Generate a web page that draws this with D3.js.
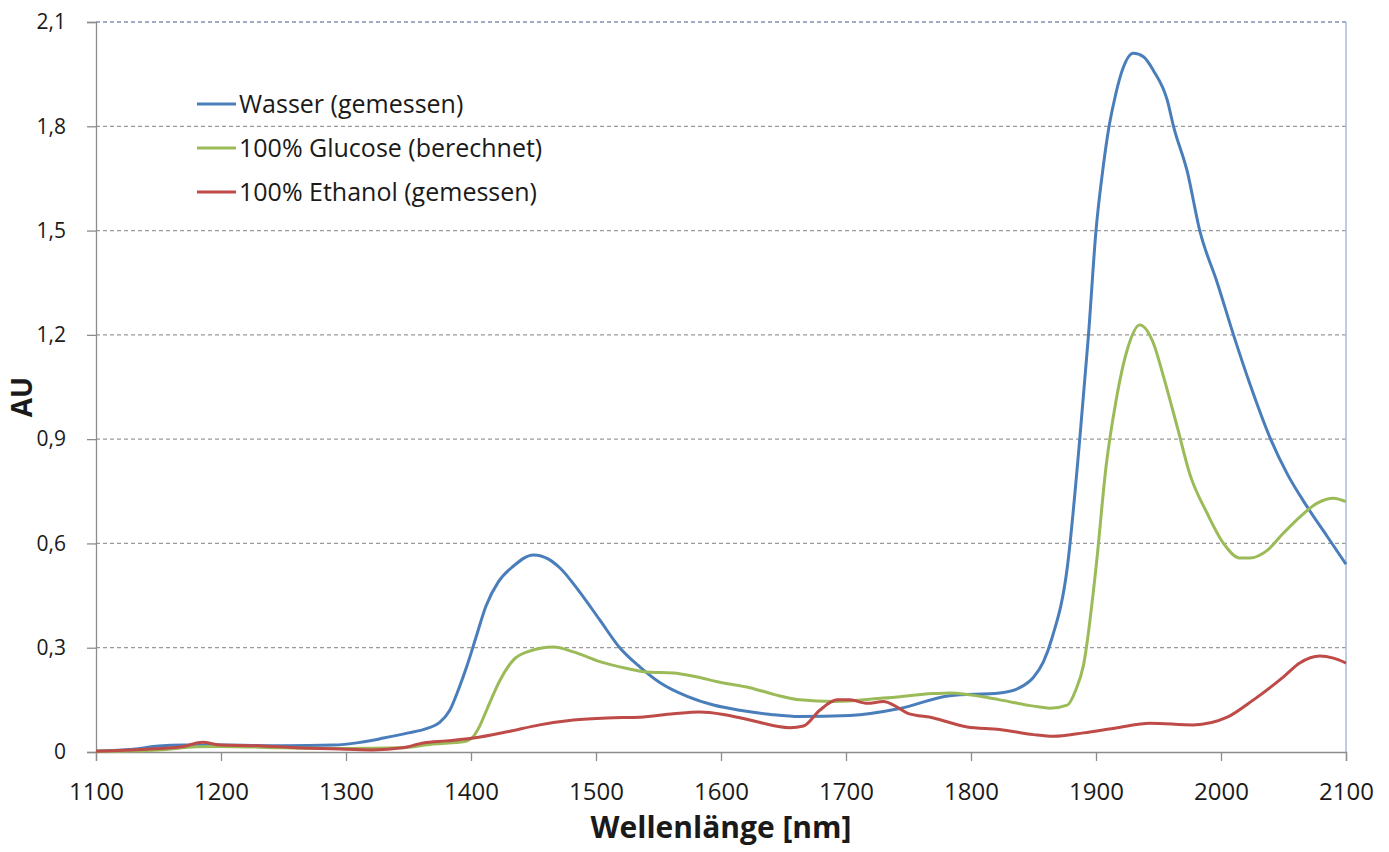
<!DOCTYPE html>
<html><head><meta charset="utf-8">
<script src="https://cdn.jsdelivr.net/npm/d3@7/dist/d3.min.js"></script>
<style>body{margin:0;background:#fff;} svg{display:block;}</style>
</head><body>
<svg id="chart" width="1389" height="852"></svg>
<script>
const seriesNames = ["Wasser (gemessen)", "100% Glucose (berechnet)", "100% Ethanol (gemessen)"];
const seriesColors = ["#4A7EBB", "#9BBB59", "#BE4B48"];
const xTicks = [1100,1200,1300,1400,1500,1600,1700,1800,1900,2000,2100];
const yTicks = [0,0.3,0.6,0.9,1.2,1.5,1.8,2.1];

const wasserNm = [1100,1130,1150,1170,1200,1250,1290,1310,1330,1350,1365,1375,1383,1390,1397,1404,1412,1422,1434,1450,1462,1471,1487,1503,1519,1535,1551,1573,1594,1615,1640,1663,1703,1743,1783,1823,1839,1850,1858,1865,1877,1887,1894,1900,1906,1910,1915,1920,1930,1938,1946,1957,1962,1973,1983,1997,2010,2023,2039,2053,2069,2085,2100];
const wasserAU = [0.003,0.008,0.017,0.02,0.02,0.018,0.02,0.027,0.04,0.055,0.068,0.085,0.12,0.18,0.25,0.33,0.42,0.49,0.535,0.567,0.555,0.53,0.46,0.38,0.30,0.245,0.2,0.16,0.135,0.12,0.108,0.102,0.105,0.125,0.162,0.17,0.185,0.215,0.26,0.33,0.53,0.9,1.2,1.5,1.69,1.79,1.88,1.95,2.01,2.0,1.96,1.875,1.8,1.67,1.5,1.35,1.2,1.06,0.906,0.8,0.705,0.62,0.54];

const glucoseNm = [1100,1150,1180,1200,1250,1300,1343,1370,1395,1402,1407,1413,1423,1434,1445,1466,1482,1503,1525,1541,1562,1578,1600,1623,1643,1663,1690,1730,1770,1783,1823,1850,1863,1877,1884,1890,1900,1908,1916,1925,1935,1946,1954,1965,1975,1989,2002,2015,2023,2037,2050,2063,2077,2090,2100];
const glucoseAU = [0.002,0.006,0.015,0.016,0.012,0.01,0.012,0.023,0.03,0.045,0.075,0.125,0.205,0.265,0.288,0.302,0.288,0.26,0.24,0.23,0.227,0.218,0.2,0.185,0.165,0.15,0.145,0.155,0.168,0.17,0.15,0.132,0.126,0.135,0.18,0.25,0.53,0.82,1.01,1.157,1.228,1.175,1.08,0.935,0.8,0.686,0.6,0.558,0.558,0.58,0.63,0.676,0.716,0.73,0.72];

const ethanolNm = [1100,1140,1170,1185,1200,1230,1260,1300,1322,1345,1362,1380,1402,1429,1455,1482,1509,1535,1562,1583,1602,1623,1655,1666,1679,1693,1703,1717,1730,1738,1749,1770,1797,1823,1850,1866,1890,1917,1943,1978,2005,2026,2050,2063,2079,2090,2100];
const ethanolAU = [0.002,0.008,0.016,0.028,0.02,0.018,0.012,0.008,0.006,0.012,0.026,0.032,0.04,0.058,0.078,0.092,0.098,0.10,0.11,0.115,0.108,0.092,0.07,0.075,0.12,0.15,0.15,0.14,0.145,0.135,0.112,0.098,0.072,0.065,0.05,0.045,0.055,0.07,0.083,0.078,0.1,0.15,0.216,0.256,0.276,0.27,0.256];

const series = [
  {name: seriesNames[0], color: seriesColors[0], pts: wasserNm.map((x,i)=>[x, wasserAU[i]])},
  {name: seriesNames[1], color: seriesColors[1], pts: glucoseNm.map((x,i)=>[x, glucoseAU[i]])},
  {name: seriesNames[2], color: seriesColors[2], pts: ethanolNm.map((x,i)=>[x, ethanolAU[i]])}
];

const svg = d3.select("#chart");
const m = {left: 96, top: 22, right: 43, bottom: 100};
const W = 1389 - m.left - m.right, H = 852 - m.top - m.bottom;
const x = d3.scaleLinear().domain([1100,2100]).range([m.left, m.left + W]);
const y = d3.scaleLinear().domain([0,2.1]).range([m.top + H, m.top]);
const font = "Open Sans, Liberation Sans, sans-serif";

// gridlines
svg.append("g").selectAll("line").data(yTicks.filter(d=>d>0)).join("line")
  .attr("x1", x(1100)).attr("x2", x(2100))
  .attr("y1", d=>y(d)).attr("y2", d=>y(d))
  .attr("stroke", d => d===2.1 ? "#7f93b0" : "#9a9a9a").attr("stroke-width", 1.3)
  .attr("stroke-dasharray", "4,3");

// right border
svg.append("line").attr("x1", x(2100)).attr("x2", x(2100)).attr("y1", y(2.1)).attr("y2", y(0))
  .attr("stroke", "#a9bcd8").attr("stroke-width", 1.5);

// axes
const xAxis = d3.axisBottom(x).tickValues(xTicks).tickSize(9).tickFormat(d3.format("d"));
const gx = svg.append("g").attr("transform", `translate(0,${y(0)})`).call(xAxis);
gx.select(".domain").attr("stroke", "#8c8c8c").attr("stroke-width", 1.3);
gx.selectAll(".tick line").attr("stroke", "#8c8c8c").attr("stroke-width", 1.3);
gx.selectAll(".tick text").attr("font-family", font).attr("font-size", 24).attr("fill", "#1a1a1a")
  .attr("y", 48).attr("dy", 0);

const yAxis = d3.axisLeft(y).tickValues(yTicks).tickSize(9).tickFormat(d => d===0 ? "0" : d3.format(".1f")(d).replace(".", ","));
const gy = svg.append("g").attr("transform", `translate(${x(1100)},0)`).call(yAxis);
gy.select(".domain").attr("stroke", "#8c8c8c").attr("stroke-width", 1.3);
gy.selectAll(".tick line").attr("stroke", "#8c8c8c").attr("stroke-width", 1.3);
gy.selectAll(".tick text").attr("font-family", font).attr("font-size", 21).attr("fill", "#1a1a1a").attr("x", -30);

// lines
const line = d3.line().x(d=>x(d[0])).y(d=>y(d[1])).curve(d3.curveMonotoneX);
svg.append("g").selectAll("path").data(series).join("path")
  .attr("d", d=>line(d.pts)).attr("fill", "none")
  .attr("stroke", d=>d.color).attr("stroke-width", 3).attr("stroke-linejoin", "round");

// legend
const lg = svg.append("g").selectAll("g").data(series).join("g")
  .attr("transform", (d,i)=>`translate(197,${104 + i*44})`);
lg.append("line").attr("x1", 0).attr("x2", 39).attr("y1", 0).attr("y2", 0)
  .attr("stroke", d=>d.color).attr("stroke-width", 3);
lg.append("text").attr("x", 42).attr("y", 0).attr("dy", "0.35em")
  .attr("font-family", font).attr("font-size", 25).attr("fill", "#1a1a1a").text(d=>d.name);

// axis titles
svg.append("text").attr("x", 721).attr("y", 838).attr("text-anchor", "middle")
  .attr("font-family", font).attr("font-weight", "bold").attr("font-size", 30).attr("fill", "#1a1a1a")
  .text("Wellenlänge [nm]");
svg.append("text").attr("transform", `translate(32,${(y(0)+y(2.1))/2 + 10}) rotate(-90)`).attr("text-anchor", "middle")
  .attr("font-family", font).attr("font-weight", "bold").attr("font-size", 28).attr("fill", "#1a1a1a")
  .text("AU");
</script>
</body></html>
